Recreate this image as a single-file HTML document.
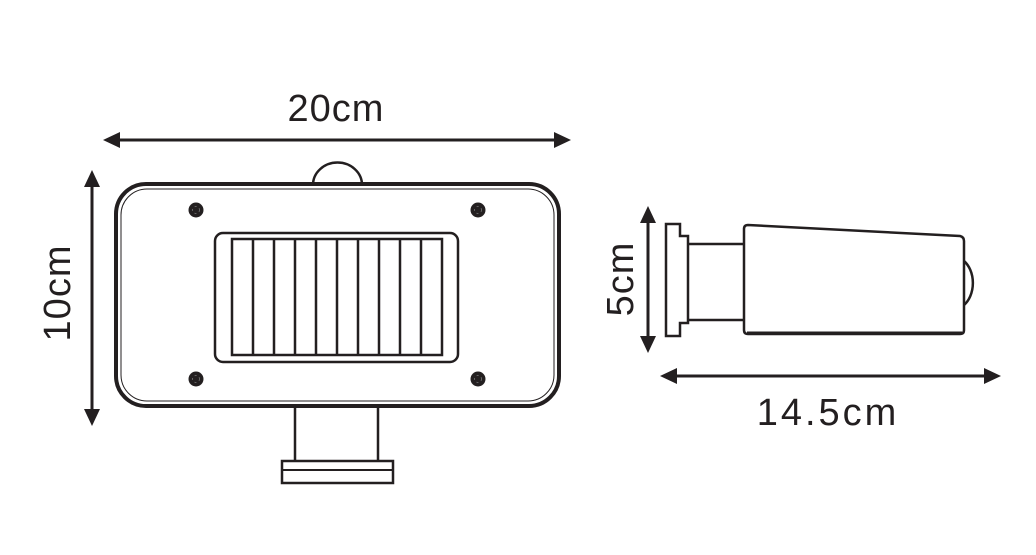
<!DOCTYPE html>
<html><head><style>
html,body{margin:0;padding:0;background:#fff;}
svg{display:block;}
text{font-family:"Liberation Sans",sans-serif;fill:#231f20;}
</style></head><body>
<svg width="1036" height="555" viewBox="0 0 1036 555" xmlns="http://www.w3.org/2000/svg">
<g stroke="#231f20" fill="none" stroke-linecap="butt">
<line x1="112" y1="140" x2="562" y2="140" stroke-width="3"/>
<polygon points="103,140 120,132 120,148" fill="#231f20" stroke="none"/>
<polygon points="571,140 554,132 554,148" fill="#231f20" stroke="none"/>
<line x1="92" y1="178" x2="92" y2="418" stroke-width="3"/>
<polygon points="92,170 84,187 100,187" fill="#231f20" stroke="none"/>
<polygon points="92,426 84,409 100,409" fill="#231f20" stroke="none"/>
<path d="M313,185 A24,22 0 0 1 362,185" stroke-width="2.5" fill="#fff"/>
<rect x="116" y="184" width="443" height="222" rx="30" stroke-width="4" fill="#fff"/>
<rect x="121" y="189" width="433" height="212" rx="26" stroke-width="1"/>
<rect x="215" y="233" width="243" height="129" rx="8" stroke-width="2.5"/>
<rect x="232" y="239" width="210" height="116" stroke-width="2.5"/>
<g stroke-width="2.5">
<line x1="253" y1="239" x2="253" y2="355"/>
<line x1="274" y1="239" x2="274" y2="355"/>
<line x1="295" y1="239" x2="295" y2="355"/>
<line x1="316" y1="239" x2="316" y2="355"/>
<line x1="337" y1="239" x2="337" y2="355"/>
<line x1="358" y1="239" x2="358" y2="355"/>
<line x1="379" y1="239" x2="379" y2="355"/>
<line x1="400" y1="239" x2="400" y2="355"/>
<line x1="421" y1="239" x2="421" y2="355"/>
</g>
<path d="M295,407 V460 M378,407 V460" stroke-width="2.5"/>
<rect x="282" y="461" width="111" height="22" stroke-width="2.5"/>
<line x1="282" y1="470" x2="393" y2="470" stroke-width="2"/>
<path d="M666,224 H680 V236 H688 V323 H680 V336 H666 Z" stroke-width="2.5"/>
<path d="M688,244 H745 M688,320 H745" stroke-width="2.5"/>
<path d="M964,261 A19,26 0 0 1 964,305" stroke-width="2.5" fill="#fff"/>
<path d="M748,225 L960,236 Q964,237 964,241 V330 Q964,334 960,334 H748 Q744,334 744,330 V229 Q744,225 748,225 Z" stroke-width="2.5" fill="#fff"/>
<line x1="747" y1="333" x2="962" y2="333" stroke-width="3"/>
<line x1="648" y1="214" x2="648" y2="346" stroke-width="3"/>
<polygon points="648,206 640,223 656,223" fill="#231f20" stroke="none"/>
<polygon points="648,353 640,336 656,336" fill="#231f20" stroke="none"/>
<line x1="668" y1="376" x2="993" y2="376" stroke-width="3"/>
<polygon points="660,376 677,368 677,384" fill="#231f20" stroke="none"/>
<polygon points="1001,376 984,368 984,384" fill="#231f20" stroke="none"/>
</g>
<g>
<circle cx="196" cy="210" r="7.5" fill="#231f20"/>
<circle cx="478" cy="210" r="7.5" fill="#231f20"/>
<circle cx="196" cy="379" r="7.5" fill="#231f20"/>
<circle cx="478" cy="379" r="7.5" fill="#231f20"/>
<g stroke="#777" stroke-width="0.8" fill="none" stroke-dasharray="2 3">
<circle cx="196" cy="210" r="3.5"/><circle cx="478" cy="210" r="3.5"/>
<circle cx="196" cy="379" r="3.5"/><circle cx="478" cy="379" r="3.5"/>
</g>
</g>
<text x="336" y="121" font-size="38" text-anchor="middle" letter-spacing="1">20cm</text>
<text transform="translate(70,293) rotate(-90)" font-size="38" text-anchor="middle" letter-spacing="1">10cm</text>
<text transform="translate(633,279) rotate(-90)" font-size="38" text-anchor="middle" letter-spacing="1">5cm</text>
<text x="828" y="425" font-size="38" text-anchor="middle" letter-spacing="3">14.5cm</text>
</svg>
</body></html>
